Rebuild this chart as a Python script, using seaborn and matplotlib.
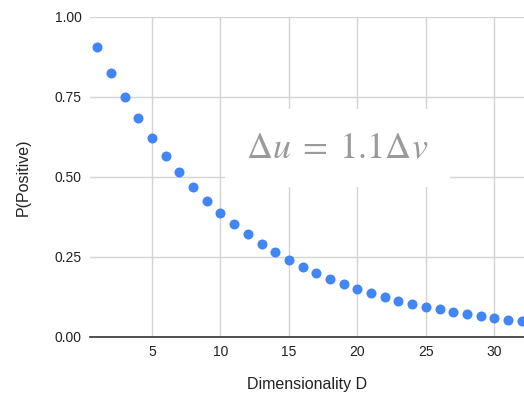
import matplotlib
matplotlib.use("Agg")
import matplotlib.pyplot as plt
import seaborn as sns

# dimensionality D and the probability
dims = list(range(1, 33))
probs = [0.907, 0.826, 0.751, 0.684, 0.622, 0.566, 0.515, 0.468,
         0.426, 0.388, 0.353, 0.321, 0.292, 0.266, 0.242, 0.220,
         0.200, 0.182, 0.166, 0.151, 0.137, 0.125, 0.114, 0.103,
         0.094, 0.086, 0.078, 0.071, 0.065, 0.059, 0.053, 0.049]
x_ticks = [5, 10, 15, 20, 25, 30]
y_ticks = [0.0, 0.25, 0.5, 0.75, 1.0]

sns.set_style("whitegrid", {"grid.color": "#d4d4d4"})
plt.rcParams["font.family"] = ["Liberation Sans", "DejaVu Sans"]
plt.rcParams["mathtext.fontset"] = "stix"

fig = plt.figure(figsize=(5.24, 3.98), dpi=100)
ax = fig.add_axes([90 / 524, 61 / 398, 434 / 524, 320 / 398])

sns.scatterplot(x=dims, y=probs, color="#4285f4", s=52, linewidth=0, ax=ax, zorder=4)

ax.set_xlim(0.47, 32.17)
ax.set_ylim(0, 1.0)
ax.set_xticks(x_ticks)
ax.set_yticks(y_ticks)
ax.set_yticklabels(["%.2f" % v for v in y_ticks])
ax.tick_params(axis="both", length=0, labelsize=10, colors="#222222", pad=6)
ax.grid(True, linewidth=1.0)
for s in ["left", "right", "top"]:
    ax.spines[s].set_visible(False)
ax.spines["bottom"].set_color("#333333")
ax.spines["bottom"].set_linewidth(1.2)

ax.set_xlabel("Dimensionality D", fontsize=11.5, color="#222222", labelpad=13)
ax.set_ylabel("P(Positive)", fontsize=11.5, color="#222222", labelpad=17)

# annotation box in the middle of the plot
ax.text(18.55, 0.59, r"$\Delta u\;=\;1.1\Delta v$", fontsize=26, color="#9a9a9a",
        ha="center", va="center", zorder=3,
        bbox=dict(boxstyle="square,pad=0.6", facecolor="white", edgecolor="none"))

fig.savefig("out.png", dpi=100)
